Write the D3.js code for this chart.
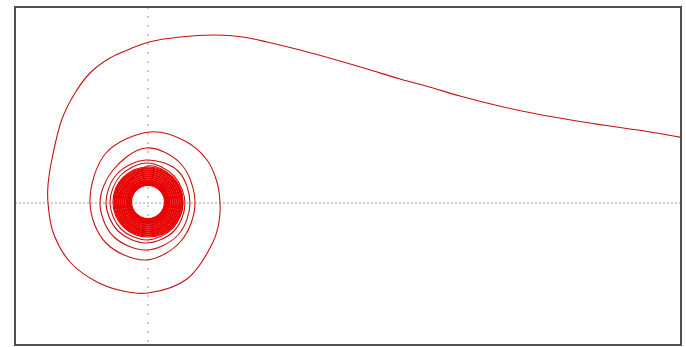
<!DOCTYPE html>
<html>
<head>
<meta charset="utf-8">
<script src="https://cdn.jsdelivr.net/npm/d3@7"></script>
<style>
  html, body { margin: 0; padding: 0; background: #fff; }
  svg { display: block; }
</style>
</head>
<body>
<svg id="chart" width="686" height="347"></svg>
<script>
// ---- data (arbitrary phase-plane units) ----
const xDomain = [-1.33, 5.33];
const yDomain = [-1.42, 1.96];
const crossX = [0];
const crossY = [0];

// trajectory: outer arm coming in from the right, then the loosely wound turns
const trajX = [5.42, 5.02, 4.35, 3.69, 3.12, 2.85, 2.52, 2.19, 1.85, 1.52, 1.19, 0.95, 0.67, 0.32, 0.01,
  -0.18, -0.38, -0.58, -0.73, -0.86, -0.95, -1.00, -1.00,
  -0.95, -0.78, -0.51, -0.25, 0.00, 0.39, 0.65, 0.71, 0.72, 0.69, 0.59, 0.37, 0.02,
  -0.42, -0.58, -0.42, -0.02, 0.33, 0.47, 0.33, -0.02,
  -0.35, -0.48, -0.35, -0.02, 0.30, 0.42, 0.30, -0.02,
  -0.31, -0.42, -0.30, -0.02, 0.26, 0.37, 0.26, -0.01,
  -0.28, -0.38, -0.27, -0.01, 0.25, 0.35, 0.25, 0.00, -0.34];
const trajY = [0.64, 0.71, 0.81, 0.93, 1.07, 1.15, 1.24, 1.34, 1.44, 1.53, 1.61, 1.66, 1.68, 1.66, 1.61,
  1.54, 1.45, 1.30, 1.10, 0.84, 0.49, 0.18, 0.00,
  -0.29, -0.59, -0.79, -0.88, -0.90, -0.76, -0.39, -0.19, 0.00, 0.21, 0.43, 0.62, 0.71,
  0.50, 0.00, -0.40, -0.57, -0.38, 0.00, 0.39, 0.55,
  0.33, 0.00, -0.33, -0.47, -0.32, 0.00, 0.32, 0.43,
  0.29, 0.00, -0.28, -0.40, -0.28, 0.00, 0.27, 0.40,
  0.27, 0.00, -0.26, -0.37, -0.25, 0.00, 0.25, 0.37, 0.00];

// tightly wound inner turns (radius of each turn), all around the same centre
const denseCenter = [0, 0.01];
const denseRadii = [0.35, 0.34, 0.335, 0.33, 0.32, 0.315, 0.31, 0.30, 0.295, 0.29, 0.28, 0.275, 0.27,
  0.26, 0.255, 0.25, 0.24, 0.235, 0.23, 0.22, 0.215, 0.21, 0.205, 0.20, 0.195, 0.19, 0.185, 0.18,
  0.175, 0.17, 0.165];

// ---- drawing ----
const svg = d3.select("#chart");
const pl = 15, pt = 7, pr = 681, pb = 345;
const x = d3.scaleLinear().domain(xDomain).range([pl, pr]);
const y = d3.scaleLinear().domain(yDomain).range([pb, pt]);

svg.append("defs").append("clipPath").attr("id", "clip")
  .append("rect").attr("x", pl).attr("y", pt).attr("width", pr - pl).attr("height", pb - pt);

const plot = svg.append("g").attr("clip-path", "url(#clip)");

// dotted crosshair
plot.selectAll("line.vx").data(crossX).enter().append("line")
  .attr("x1", d => x(d)).attr("x2", d => x(d)).attr("y1", pt).attr("y2", pb)
  .attr("stroke", "#9a9a9a").attr("stroke-width", 1).attr("stroke-dasharray", "2,7");
plot.selectAll("line.hy").data(crossY).enter().append("line")
  .attr("y1", d => y(d)).attr("y2", d => y(d)).attr("x1", pl).attr("x2", pr)
  .attr("stroke", "#9a9a9a").attr("stroke-width", 1).attr("stroke-dasharray", "2,2");

const pts = trajX.map((v, i) => [v, trajY[i]]);
const line = d3.line().x(d => x(d[0])).y(d => y(d[1])).curve(d3.curveCatmullRom.alpha(0.5));
plot.append("path").attr("d", line(pts))
  .attr("fill", "none").attr("stroke", "#c81010").attr("stroke-width", 1.1);

plot.selectAll("circle.dense").data(denseRadii).enter().append("circle")
  .attr("cx", x(denseCenter[0])).attr("cy", y(denseCenter[1]))
  .attr("r", d => x(d) - x(0))
  .attr("fill", "none").attr("stroke", "#e80000").attr("stroke-width", 1.1);

// frame
svg.append("rect").attr("x", pl).attr("y", pt).attr("width", pr - pl).attr("height", pb - pt)
  .attr("fill", "none").attr("stroke", "#505050").attr("stroke-width", 2);
</script>
</body>
</html>
